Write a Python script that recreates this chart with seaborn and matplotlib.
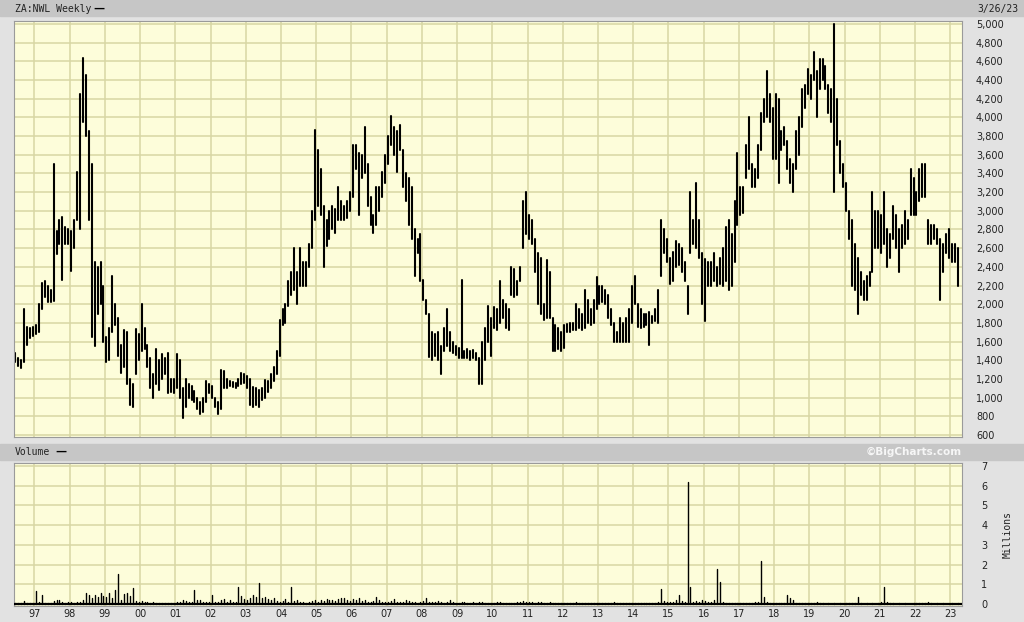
import matplotlib
matplotlib.use("Agg")
import matplotlib.pyplot as plt
from matplotlib.patches import Rectangle
import seaborn as sns
import pandas as pd

# monthly bars starting June 1996, ending March 2023 (high / low of the weekly bars in each month)
start_year, start_month = 1996, 6

price_high = [
    1480, 1420, 1400, 1950, 1760, 1750, 1760,                              # 1996
    1780, 2000, 2230, 2250, 2200, 2150, 3500, 2780, 2900, 2930, 2830, 2800,  # 1997
    2780, 2900, 3420, 4250, 4640, 4450, 3850, 3500, 2450, 2400, 2450, 2200,  # 1998
    1650, 1750, 2300, 2000, 1850, 1560, 1720, 1700, 1200, 1150, 1730, 1680,  # 1999
    2000, 1750, 1560, 1420, 1250, 1520, 1400, 1470, 1420, 1480, 1200, 1200,  # 2000
    1470, 1400, 1100, 1200, 1150, 1120, 1070, 1000, 950, 1000, 1180, 1150,   # 2001
    1120, 1000, 950, 1300, 1280, 1200, 1180, 1170, 1160, 1200, 1260, 1250,   # 2002
    1230, 1200, 1110, 1100, 1080, 1100, 1190, 1180, 1250, 1330, 1500, 1830,  # 2003
    1950, 2000, 2250, 2350, 2600, 2350, 2600, 2450, 2450, 2650, 3000, 3870,  # 2004
    3650, 3450, 3050, 2900, 3000, 3050, 3020, 3260, 3100, 3050, 3100, 3200,  # 2005
    3700, 3700, 3620, 3600, 3900, 3500, 3150, 2950, 3250, 3250, 3420, 3600,  # 2006
    3800, 4010, 3900, 3850, 3920, 3650, 3400, 3350, 3250, 2800, 2700, 2750,  # 2007
    2260, 2050, 1900, 1700, 1680, 1700, 1550, 1750, 1950, 1700, 1600, 1550,  # 2008
    1530, 2260, 1500, 1520, 1500, 1510, 1480, 1420, 1600, 1750, 1980, 1850,  # 2009
    1970, 1950, 2250, 2050, 2000, 1950, 2400, 2380, 2250, 2400, 3100, 3200,  # 2010
    2950, 2900, 2700, 2550, 2500, 2000, 2470, 2350, 1850, 1780, 1750, 1700,  # 2011
    1780, 1790, 1800, 1800, 2000, 1950, 1900, 2150, 2050, 1950, 2050, 2290,  # 2012
    2200, 2200, 2150, 2100, 1950, 1800, 1700, 1850, 1800, 1850, 1950, 2200,  # 2013
    2300, 2000, 1950, 1900, 1900, 1920, 1870, 1950, 2150, 2900, 2800, 2700,  # 2014
    2500, 2560, 2680, 2650, 2600, 2450, 2200, 3200, 2900, 3300, 2900, 2550,  # 2015
    2480, 2450, 2450, 2550, 2400, 2500, 2600, 2830, 2900, 2750, 3100, 3620,  # 2016
    3250, 3250, 3700, 4000, 3500, 3450, 3700, 4050, 4200, 4500, 4250, 4100,  # 2017
    4250, 4200, 3850, 3900, 3750, 3550, 3500, 3850, 4000, 4300, 4350, 4520,  # 2018
    4450, 4700, 4500, 4620, 4620, 4550, 4350, 4300, 5000, 4200, 3750, 3500,  # 2019
    3300, 3000, 2900, 2650, 2500, 2350, 2250, 2300, 2350, 3200, 3000, 3000,  # 2020
    2950, 3200, 2800, 2750, 3050, 2950, 2800, 2850, 3000, 2900, 3450, 3350,  # 2021
    3200, 3450, 3500, 3500, 2900, 2850, 2850, 2800, 2700, 2650, 2750, 2800,  # 2022
    2650, 2650, 2600,                                                        # 2023
]

price_low = [
    1380, 1340, 1320, 1380, 1560, 1640, 1660,                                # 1996
    1680, 1700, 1950, 2080, 2020, 2020, 2030, 2540, 2650, 2260, 2650, 2650,  # 1997
    2360, 2600, 2900, 2800, 3950, 3800, 2900, 1650, 1550, 1900, 2000, 1600,  # 1998
    1380, 1400, 1700, 1780, 1450, 1260, 1330, 1150, 920, 900, 1250, 1400,    # 1999
    1500, 1520, 1330, 1100, 1000, 1150, 1080, 1200, 1250, 1050, 1060, 1050,  # 2000
    1100, 1000, 780, 900, 1000, 980, 950, 880, 830, 850, 950, 1050,          # 2001
    1000, 900, 820, 880, 1100, 1100, 1120, 1110, 1100, 1120, 1150, 1160,     # 2002
    1100, 920, 900, 920, 900, 980, 1000, 1060, 1100, 1180, 1250, 1450,       # 2003
    1780, 1800, 1980, 2100, 2150, 2000, 2200, 2200, 2200, 2400, 2600, 2900,  # 2004
    3050, 2950, 2400, 2620, 2700, 2800, 2760, 2900, 2900, 2900, 2920, 3000,  # 2005
    3150, 3450, 2950, 3350, 3400, 3050, 2850, 2760, 2850, 3000, 3150, 3300,  # 2006
    3500, 3700, 3600, 3420, 3650, 3250, 3100, 2850, 2700, 2300, 2550, 2250,  # 2007
    2050, 1900, 1430, 1400, 1450, 1400, 1250, 1500, 1550, 1500, 1480, 1460,  # 2008
    1420, 1420, 1420, 1420, 1400, 1420, 1400, 1150, 1150, 1400, 1600, 1450,  # 2009
    1750, 1720, 1800, 1850, 1750, 1720, 2100, 2080, 2100, 2250, 2600, 2750,  # 2010
    2700, 2650, 2350, 2000, 1900, 1830, 1850, 1850, 1500, 1500, 1520, 1500,  # 2011
    1530, 1700, 1700, 1720, 1720, 1750, 1720, 1750, 1800, 1780, 1800, 1950,  # 2012
    2000, 2020, 2000, 1850, 1780, 1600, 1600, 1600, 1600, 1600, 1600, 1800,  # 2013
    2000, 1760, 1750, 1760, 1780, 1560, 1800, 1820, 1800, 2300, 2550, 2450,  # 2014
    2220, 2250, 2400, 2420, 2350, 2250, 1900, 2550, 2650, 2600, 2500, 2000,  # 2015
    1820, 2200, 2200, 2250, 2200, 2220, 2200, 2250, 2150, 2200, 2450, 2850,  # 2016
    2950, 2980, 3350, 3450, 3250, 3250, 3350, 3650, 3950, 4000, 3950, 3550,  # 2017
    3550, 3300, 3650, 3700, 3450, 3300, 3200, 3450, 3600, 3900, 4100, 4250,  # 2018
    4200, 4400, 4000, 4300, 4400, 4300, 4050, 3950, 3200, 3700, 3400, 3250,  # 2019
    3000, 2700, 2200, 2150, 1900, 2100, 2050, 2050, 2200, 2350, 2600, 2600,  # 2020
    2550, 2650, 2400, 2500, 2700, 2600, 2350, 2600, 2650, 2700, 2950, 2950,  # 2021
    2950, 3100, 3150, 3150, 2650, 2650, 2700, 2650, 2050, 2350, 2550, 2500,  # 2022
    2450, 2450, 2200,                                                        # 2023
]

# largest weekly volume in each month, millions of shares
volume_m = [
    0.05, 0.04, 0.06, 0.13, 0.05, 0.04, 0.03,                                # 1996
    0.65, 0.08, 0.48, 0.05, 0.04, 0.03, 0.15, 0.22, 0.18, 0.10, 0.05, 0.08,  # 1997
    0.08, 0.06, 0.10, 0.12, 0.20, 0.55, 0.45, 0.30, 0.45, 0.35, 0.55, 0.40,  # 1998
    0.35, 0.55, 0.30, 0.72, 1.50, 0.20, 0.50, 0.55, 0.40, 0.80, 0.15, 0.12,  # 1999
    0.15, 0.10, 0.12, 0.06, 0.08, 0.05, 0.06, 0.04, 0.05, 0.05, 0.03, 0.05,  # 2000
    0.08, 0.12, 0.20, 0.15, 0.10, 0.12, 0.72, 0.18, 0.22, 0.08, 0.12, 0.10,  # 2001
    0.48, 0.12, 0.10, 0.20, 0.25, 0.10, 0.18, 0.10, 0.12, 0.85, 0.40, 0.25,  # 2002
    0.20, 0.30, 0.48, 0.35, 1.05, 0.30, 0.35, 0.25, 0.20, 0.30, 0.15, 0.12,  # 2003
    0.15, 0.25, 0.12, 0.85, 0.15, 0.20, 0.08, 0.10, 0.06, 0.12, 0.15, 0.20,  # 2004
    0.12, 0.20, 0.15, 0.25, 0.18, 0.20, 0.15, 0.25, 0.30, 0.28, 0.20, 0.15,  # 2005
    0.25, 0.20, 0.30, 0.15, 0.20, 0.12, 0.10, 0.15, 0.35, 0.20, 0.12, 0.10,  # 2006
    0.10, 0.15, 0.25, 0.08, 0.10, 0.12, 0.20, 0.15, 0.10, 0.08, 0.06, 0.10,  # 2007
    0.15, 0.30, 0.12, 0.10, 0.08, 0.15, 0.10, 0.06, 0.12, 0.20, 0.08, 0.05,  # 2008
    0.06, 0.10, 0.08, 0.05, 0.06, 0.08, 0.05, 0.10, 0.12, 0.06, 0.05, 0.04,  # 2009
    0.05, 0.08, 0.10, 0.06, 0.05, 0.04, 0.06, 0.05, 0.08, 0.10, 0.15, 0.12,  # 2010
    0.10, 0.08, 0.06, 0.12, 0.08, 0.06, 0.05, 0.10, 0.06, 0.04, 0.05, 0.04,  # 2011
    0.05, 0.04, 0.06, 0.05, 0.08, 0.04, 0.05, 0.06, 0.04, 0.05, 0.03, 0.04,  # 2012
    0.04, 0.05, 0.06, 0.04, 0.05, 0.08, 0.05, 0.04, 0.06, 0.05, 0.04, 0.05,  # 2013
    0.04, 0.06, 0.05, 0.04, 0.05, 0.06, 0.05, 0.04, 0.10, 0.78, 0.15, 0.12,  # 2014
    0.10, 0.08, 0.20, 0.48, 0.15, 0.12, 6.20, 0.85, 0.10, 0.15, 0.12, 0.20,  # 2015
    0.15, 0.12, 0.10, 0.20, 1.75, 1.10, 0.10, 0.05, 0.06, 0.05, 0.06, 0.05,  # 2016
    0.05, 0.06, 0.04, 0.05, 0.06, 0.10, 0.12, 2.20, 0.35, 0.10, 0.06, 0.05,  # 2017
    0.05, 0.04, 0.05, 0.06, 0.45, 0.30, 0.20, 0.05, 0.04, 0.05, 0.04, 0.03,  # 2018
    0.03, 0.04, 0.08, 0.05, 0.03, 0.02, 0.03, 0.02, 0.03, 0.02, 0.03, 0.02,  # 2019
    0.03, 0.05, 0.06, 0.05, 0.37, 0.03, 0.02, 0.03, 0.02, 0.03, 0.02, 0.03,  # 2020
    0.10, 0.85, 0.12, 0.05, 0.03, 0.02, 0.03, 0.02, 0.03, 0.02, 0.02, 0.05,  # 2021
    0.05, 0.04, 0.03, 0.06, 0.08, 0.03, 0.02, 0.03, 0.02, 0.03, 0.02, 0.02,  # 2022
    0.03, 0.02, 0.03,                                                        # 2023
]

year_ticks = list(range(1997, 2024))
year_labels = ['97', '98', '99', '00', '01', '02', '03', '04', '05', '06', '07', '08', '09',
               '10', '11', '12', '13', '14', '15', '16', '17', '18', '19', '20', '21', '22', '23']
price_ticks = list(range(600, 5001, 200))
volume_ticks = list(range(0, 8))

n = len(price_high)
dates = [start_year + (start_month - 1 + k + 0.5) / 12 for k in range(n)]

bars = pd.DataFrame({
    'date': dates + dates,
    'price': price_low + price_high,
    'bar': list(range(n)) * 2,
})
vols = pd.DataFrame({
    'date': dates + dates,
    'volume': [0.0] * n + volume_m,
    'bar': list(range(n)) * 2,
})

sns.set_style("white")
plt.rcParams['font.family'] = ['DejaVu Sans']

W, H = 1024, 622
bg = '#fdfdda'
grid_c = '#d8d6a4'
panel_c = '#e2e2e2'
band_c = '#c6c6c6'

fig = plt.figure(figsize=(W / 100, H / 100), dpi=100, facecolor=panel_c)

def fx(px):
    return px / W

def fy(py):
    return 1 - py / H

# header bands
fig.patches.append(Rectangle((0, fy(16)), 1, 16 / H, transform=fig.transFigure, color=band_c, zorder=0))
fig.patches.append(Rectangle((0, fy(460)), 1, 16 / H, transform=fig.transFigure, color=band_c, zorder=0))

x_left, x_right = 1996.418, 2023.334

# price panel
ax1 = fig.add_axes([fx(14), fy(437), fx(948), (437 - 21) / H])
ax1.set_facecolor(bg)
sns.lineplot(data=bars, x='date', y='price', units='bar', estimator=None,
             color='black', lw=1.5, ax=ax1, legend=False)
ax1.set_xlim(x_left, x_right)
ax1.set_ylim(578.6, 5032)
ax1.set_xticks(year_ticks)
ax1.set_xticklabels([])
ax1.set_yticks(price_ticks)
ax1.set_yticklabels([f'{v:,}' for v in price_ticks])
ax1.yaxis.tick_right()
ax1.tick_params(axis='both', length=0, labelsize=7, colors='#222222')
ax1.tick_params(axis='y', pad=10)
ax1.grid(True, color=grid_c, lw=1.1)
ax1.set_axisbelow(True)
ax1.set_xlabel('')
ax1.set_ylabel('')
for s in ax1.spines.values():
    s.set_color('#9a9a9a')
    s.set_linewidth(0.8)

# volume panel
ax2 = fig.add_axes([fx(14), fy(606), fx(948), (606 - 463) / H])
ax2.set_facecolor(bg)
sns.lineplot(data=vols, x='date', y='volume', units='bar', estimator=None,
             color='black', lw=1.0, ax=ax2, legend=False)
ax2.axhline(0, color='black', lw=1.6, zorder=3)
ax2.set_xlim(x_left, x_right)
ax2.set_ylim(-0.101, 7.15)
ax2.set_xticks(year_ticks)
ax2.set_xticklabels(year_labels)
ax2.set_yticks(volume_ticks)
ax2.yaxis.tick_right()
ax2.tick_params(axis='both', length=0, labelsize=7, colors='#222222')
ax2.tick_params(axis='y', pad=14)
ax2.tick_params(axis='x', pad=2)
ax2.grid(True, color=grid_c, lw=1.1)
ax2.set_axisbelow(True)
ax2.set_xlabel('')
ax2.set_ylabel('')
for s in ax2.spines.values():
    s.set_color('#9a9a9a')
    s.set_linewidth(0.8)

# header texts
fig.text(fx(15), fy(9), 'ZA:NWL Weekly', family='DejaVu Sans Mono', fontsize=7,
         color='#222222', va='center', ha='left')
fig.text(fx(93), fy(9), '\u2014', fontsize=8, fontweight='bold', color='black', va='center')
fig.text(fx(1018), fy(9), '3/26/23', family='DejaVu Sans Mono', fontsize=7,
         color='#222222', va='center', ha='right')
fig.text(fx(15), fy(452), 'Volume', family='DejaVu Sans Mono', fontsize=7,
         color='#222222', va='center', ha='left')
fig.text(fx(55), fy(452), '\u2014', fontsize=8, fontweight='bold', color='black', va='center')
fig.text(fx(962), fy(452), '\u00a9BigCharts.com', fontsize=7.5, fontweight='bold',
         color='#f6f6f6', va='center', ha='right')
fig.text(fx(1008), fy(535), 'Millions', family='DejaVu Sans Mono', fontsize=7,
         color='#222222', va='center', ha='center', rotation=90)

fig.savefig('out.png', dpi=100, facecolor=fig.get_facecolor())
